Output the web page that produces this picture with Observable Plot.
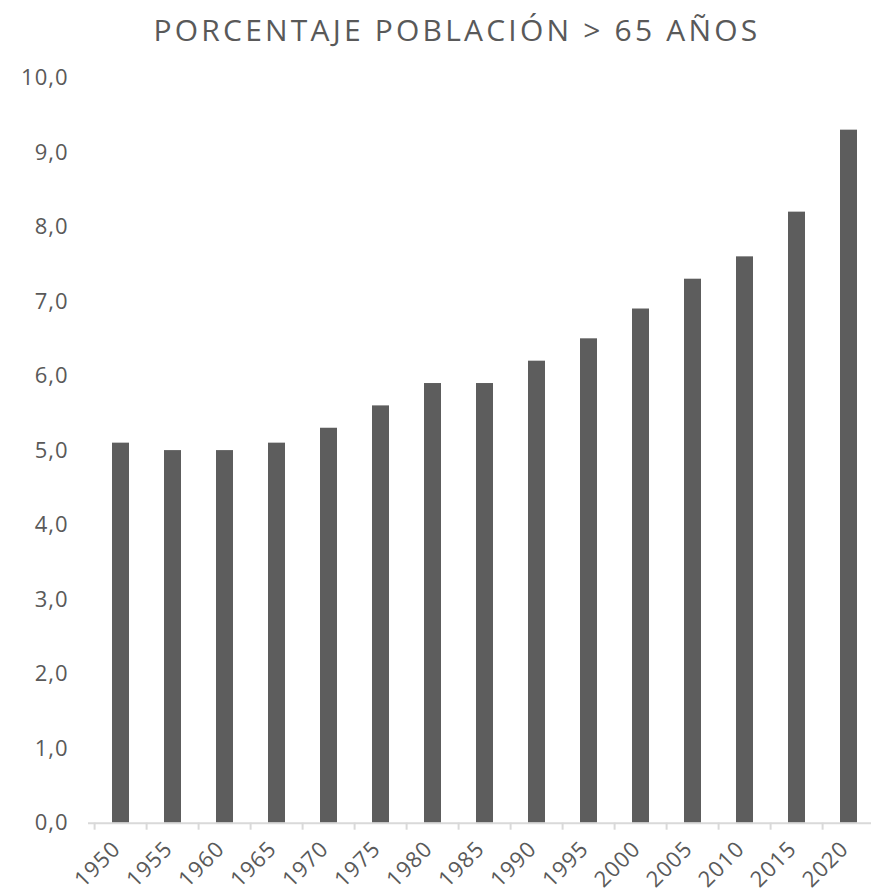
<!DOCTYPE html>
<html>
<head>
<meta charset="utf-8">
<script src="https://cdn.jsdelivr.net/npm/d3@7"></script>
<script src="https://cdn.jsdelivr.net/npm/@observablehq/plot@0.6"></script>
<style>
  html, body { margin: 0; padding: 0; background: #fff; overflow: hidden; }
  #title { width: 914px; height: 60px; line-height: 60px; text-align: center;
    font-family: "Open Sans", sans-serif; font-size: 30px; color: #595959; font-weight: 400; letter-spacing: 3.2px; }
  #chart svg text { letter-spacing: 1px; }
</style>
</head>
<body>
<div id="title">PORCENTAJE POBLACIÓN &gt; 65 AÑOS</div>
<div id="chart"></div>
<script>
const years = ["1950","1955","1960","1965","1970","1975","1980","1985","1990","1995","2000","2005","2010","2015","2020"];
const values = [5.1, 5.0, 5.0, 5.1, 5.3, 5.6, 5.9, 5.9, 6.2, 6.5, 6.9, 7.3, 7.6, 8.2, 9.3];
const yTicks = [0,1,2,3,4,5,6,7,8,9,10];

const data = years.map((y, i) => ({year: y, value: values[i]}));
const fmt = v => v.toFixed(1).replace(".", ",");

const width = 880, height = 833, mL = 88, mR = 0;
const step = (width - mL - mR) / years.length;

const chart = Plot.plot({
  width, height,
  marginLeft: mL, marginRight: mR, marginTop: 17.5, marginBottom: 70.3,
  style: {fontFamily: "'Open Sans', sans-serif", fontSize: "22px", color: "#595959", background: "#fff", maxWidth: "none", overflow: "visible"},
  x: {domain: years, paddingInner: 0.678, paddingOuter: 0.339, label: null},
  y: {domain: [0, 10], label: null},
  marks: [
    Plot.barY(data, {x: "year", y: "value", fill: "#5d5d5d"}),
    Plot.ruleY([0], {stroke: "#d9d9d9", strokeWidth: 2}),
    Plot.axisY({ticks: yTicks, tickFormat: fmt, tickSize: 0, tickPadding: 20, fill: "#595959", fontSize: 22}),
    Plot.axisX({tickFormat: () => "", tickSize: 7, dx: -step / 2, stroke: "#d9d9d9", strokeWidth: 2}),
    Plot.axisX({tickSize: 0, tickPadding: 22, tickRotate: -45, fill: "#595959", fontSize: 22, dx: -4})
  ]
});
document.getElementById("chart").appendChild(chart);
</script>
</body>
</html>
